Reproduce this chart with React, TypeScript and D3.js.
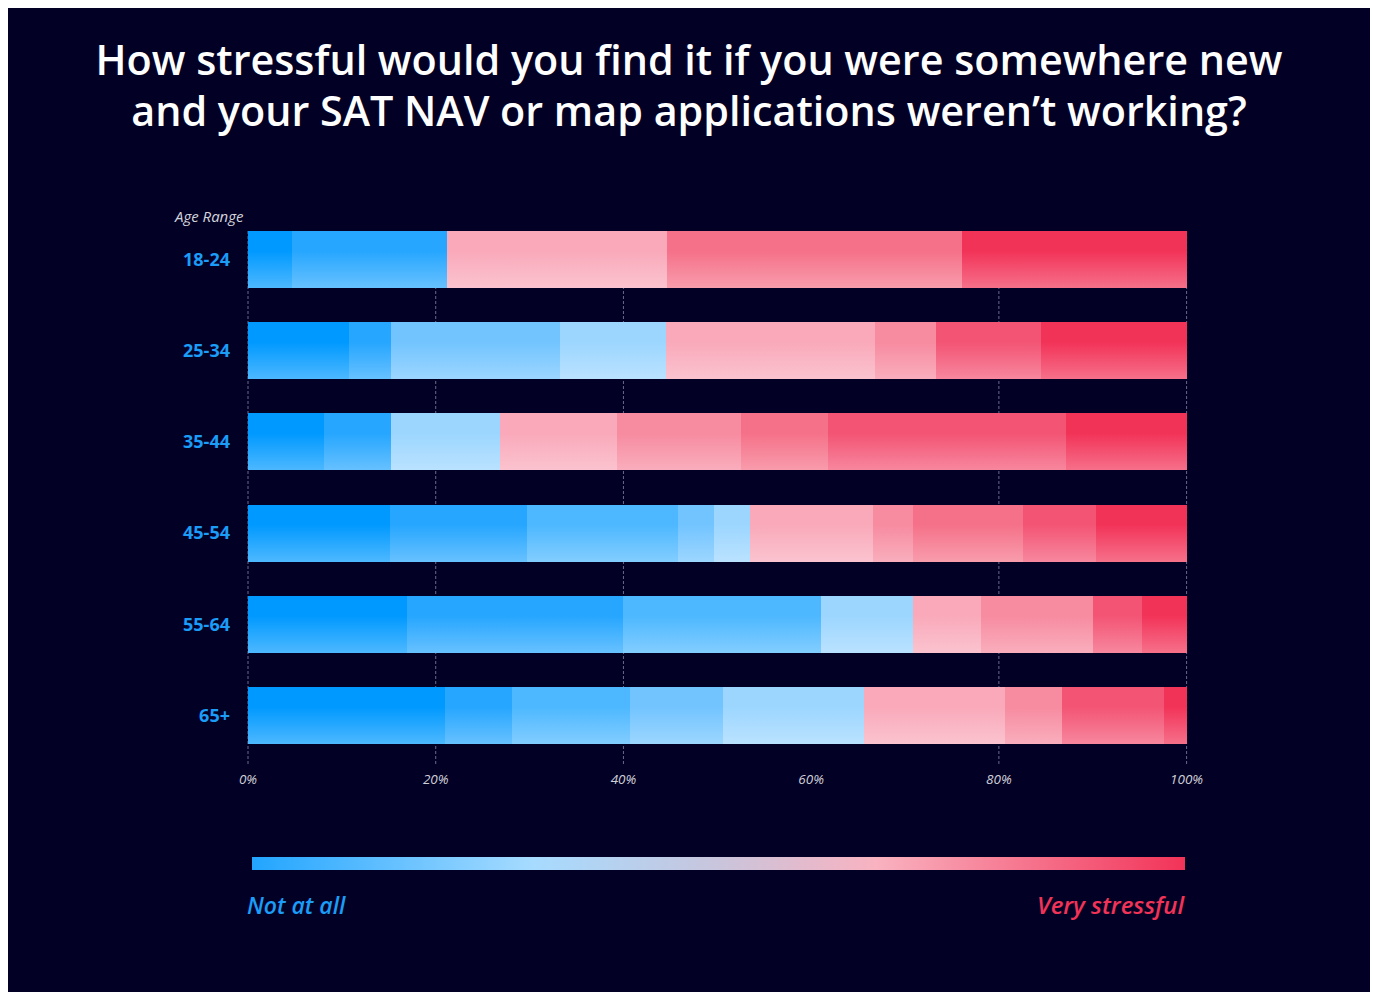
import React from "react";
import * as d3 from "d3";

const titleLines = [
  "How stressful would you find it if you were somewhere new",
  "and your SAT NAV or map applications weren\u2019t working?",
];
const ageRanges = ["18-24", "25-34", "35-44", "45-54", "55-64", "65+"];
const levels = ["1", "2", "3", "4", "5", "6", "7", "8", "9", "10"];
const levelColors = [
  "#0099ff", "#26a6ff", "#4db8ff", "#72c4ff", "#9cd6ff",
  "#f9a9ba", "#f78ba0", "#f57189", "#f35474", "#f23358",
];
// share (%) of each stress level, 1 = not at all ... 10 = very stressful
const v1824 = [4.7, 16.5, 0, 0, 0, 23.4, 0, 31.5, 0, 23.9];
const v2534 = [10.8, 4.4, 0, 18.0, 11.3, 22.3, 6.5, 0, 11.2, 15.5];
const v3544 = [8.1, 7.1, 0, 0, 11.7, 12.4, 13.2, 9.3, 25.3, 12.9];
const v4554 = [15.1, 14.6, 16.1, 3.8, 3.9, 13.1, 4.2, 11.8, 7.7, 9.7];
const v5564 = [16.9, 23.1, 21.0, 0, 9.8, 7.3, 11.9, 0, 5.3, 4.7];
const v65 = [21.0, 7.1, 12.6, 9.9, 15.0, 15.1, 6.0, 0, 10.9, 2.4];
const seriesValues = [v1824, v2534, v3544, v4554, v5564, v65];
const tickValues = [0, 20, 40, 60, 80, 100];
const gridValues = [0, 20, 40, 80, 100];
const legendStops = [
  { offset: 0, color: "#22a5ff" },
  { offset: 0.3, color: "#a6dbff" },
  { offset: 0.5, color: "#c9c5dc" },
  { offset: 0.67, color: "#f9b2c0" },
  { offset: 1, color: "#f23358" },
];

const BG = "#020125";
const FONT = "'Open Sans', 'DejaVu Sans', sans-serif";

export default function App() {
  const rows = ageRanges.map((age, i) => {
    const r: any = { age };
    levels.forEach((l, j) => (r[l] = seriesValues[i][j]));
    return r;
  });
  const stacked = d3.stack().keys(levels)(rows);

  const x = d3.scaleLinear().domain([0, 100]).range([248, 1186.6]);
  const y = d3
    .scaleBand()
    .domain(ageRanges)
    .range([231, 744])
    .paddingInner(0.375)
    .paddingOuter(0);

  const lighten = (c: string) => d3.interpolateRgb(c, "#ffffff")(0.3);

  return (
    <svg
      width={1377}
      height={992}
      style={{ position: "absolute", left: 0, top: 0, display: "block" }}
    >
      <defs>
        {levelColors.map((c, i) => (
          <linearGradient key={i} id={`lv${i}`} x1="0" y1="0" x2="0" y2="1">
            <stop offset="0" stopColor={c} />
            <stop offset="0.35" stopColor={c} />
            <stop offset="1" stopColor={lighten(c)} />
          </linearGradient>
        ))}
        <linearGradient id="legendGrad" x1="0" y1="0" x2="1" y2="0">
          {legendStops.map((s, i) => (
            <stop key={i} offset={s.offset} stopColor={s.color} />
          ))}
        </linearGradient>
      </defs>
      <rect x={8} y={8} width={1362} height={984} fill={BG} />

      {titleLines.map((t, i) => (
        <text
          key={i}
          x={689}
          y={75 + i * 51}
          textAnchor="middle"
          fill="#ffffff"
          fontFamily={FONT}
          fontWeight={600}
          fontSize={41.3}
        >
          {t}
        </text>
      ))}

      <text
        x={175}
        y={222}
        fill="#d4d4dc"
        fontFamily={FONT}
        fontStyle="italic"
        fontSize={15}
      >
        Age Range
      </text>

      {gridValues.map((v) => (
        <line
          key={v}
          x1={x(v)}
          x2={x(v)}
          y1={231}
          y2={766}
          stroke="#6b6b88"
          strokeWidth={1}
          strokeDasharray="3,2"
        />
      ))}

      {stacked.map((s, li) =>
        s.map((d: any, ri: number) => {
          const w = x(d[1]) - x(d[0]);
          if (w <= 0) return null;
          return (
            <rect
              key={`${li}-${ri}`}
              x={x(d[0])}
              y={y(ageRanges[ri])}
              width={w}
              height={y.bandwidth()}
              fill={`url(#lv${li})`}
              shapeRendering="crispEdges"
            />
          );
        })
      )}

      {ageRanges.map((a) => (
        <text
          key={a}
          x={230}
          y={(y(a) as number) + y.bandwidth() / 2}
          dy="0.35em"
          textAnchor="end"
          fill="#1a9cf7"
          fontFamily={FONT}
          fontWeight={700}
          fontSize={18}
        >
          {a}
        </text>
      ))}

      {tickValues.map((v) => (
        <text
          key={v}
          x={x(v)}
          y={784}
          textAnchor="middle"
          fill="#cfcfd8"
          fontFamily={FONT}
          fontStyle="italic"
          fontSize={13.5}
        >
          {`${v}%`}
        </text>
      ))}

      <rect x={252} y={857} width={933} height={13} fill="url(#legendGrad)" />
      <text
        x={247}
        y={914}
        fill="#1a9cf7"
        fontFamily={FONT}
        fontStyle="italic"
        fontWeight={600}
        fontSize={23}
      >
        Not at all
      </text>
      <text
        x={1184}
        y={914}
        textAnchor="end"
        fill="#f23358"
        fontFamily={FONT}
        fontStyle="italic"
        fontWeight={600}
        fontSize={24}
      >
        Very stressful
      </text>
    </svg>
  );
}
